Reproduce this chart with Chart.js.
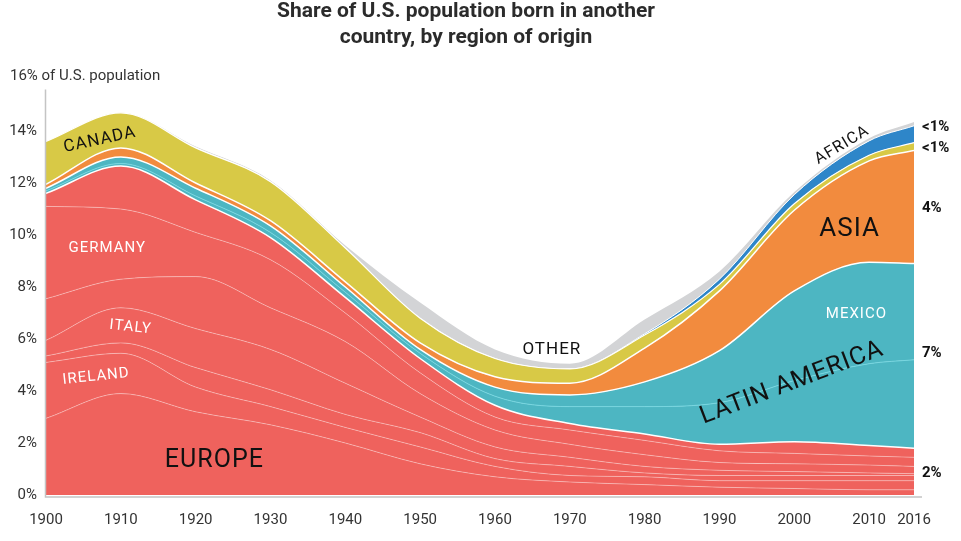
<!DOCTYPE html>
<html>
<head>
<meta charset="utf-8">
<script src="https://cdn.jsdelivr.net/npm/chart.js@4.4.1/dist/chart.umd.min.js"></script>
<style>
  html, body { margin: 0; padding: 0; background: #fff; }
  #wrap { width: 961px; height: 541px; position: relative; }
</style>
</head>
<body>
<div id="wrap"><canvas id="c" width="961" height="541"></canvas></div>
<script>
// Census years (x) and tick labels
const years = [1900, 1910, 1920, 1930, 1940, 1950, 1960, 1970, 1980, 1990, 2000, 2010, 2016];
const xTicks = [1900, 1910, 1920, 1930, 1940, 1950, 1960, 1970, 1980, 1990, 2000, 2010, 2016];
const yTicks = [0, 2, 4, 6, 8, 10, 12, 14, 16];

// % of U.S. population, stacked bottom to top
// Europe is drawn as several thin bands (faint lines inside the red area)
const europeA  = [2.95, 3.9, 3.2, 2.7, 2.0, 1.2, 0.7, 0.5, 0.4, 0.3, 0.25, 0.2, 0.2];
const ireland  = [2.15, 1.55, 0.95, 0.7, 0.6, 0.65, 0.4, 0.25, 0.3, 0.25, 0.3, 0.35, 0.35];
const europeB  = [0.25, 0.4, 0.75, 0.65, 0.5, 0.55, 0.3, 0.35, 0.15, 0.2, 0.2, 0.2, 0.2];
const italy    = [0.6, 1.35, 1.5, 1.55, 1.2, 0.6, 0.45, 0.35, 0.25, 0.2, 0.15, 0.1, 0.07];
const europeC  = [1.6, 1.1, 2.0, 1.6, 1.6, 0.9, 0.65, 0.5, 0.45, 0.3, 0.3, 0.3, 0.28];
const germany  = [3.55, 2.7, 1.7, 1.85, 1.1, 0.8, 0.5, 0.55, 0.55, 0.45, 0.4, 0.35, 0.35];
const europeD  = [0.5, 1.65, 1.25, 0.85, 0.6, 0.55, 0.45, 0.25, 0.25, 0.25, 0.45, 0.4, 0.35];
const latinOther = [0.1, 0.1, 0.15, 0.2, 0.2, 0.2, 0.35, 0.65, 1.05, 1.6, 2.35, 3.15, 3.4];
const mexico   = [0.1, 0.25, 0.3, 0.25, 0.2, 0.15, 0.35, 0.45, 0.95, 2.0, 3.45, 3.9, 3.7];
const asia     = [0.15, 0.35, 0.2, 0.2, 0.2, 0.25, 0.4, 0.45, 1.3, 2.3, 3.1, 3.9, 4.35];
const canada   = [1.65, 1.35, 1.35, 1.5, 1.3, 0.95, 0.7, 0.55, 0.5, 0.25, 0.25, 0.22, 0.3];
const africa   = [0, 0, 0, 0, 0, 0, 0, 0, 0.05, 0.2, 0.35, 0.55, 0.65];
const other    = [0, 0, 0.05, 0.05, 0.1, 0.6, 0.35, 0.2, 0.55, 0.3, 0.1, 0.1, 0.15];

const RED = '#EF625D', TEAL = '#4DB6C2', ORANGE = '#F28B3E', YELLOW = '#D8C946', BLUE = '#2E86C9', GRAY = '#D3D4D6';
const FAINT = 'rgba(255,255,255,0.35)';

function layer(label, vals, color, line, width, first) {
  return {
    label,
    data: years.map((yr, i) => ({ x: yr, y: vals[i] })),
    backgroundColor: color,
    borderColor: line,
    borderWidth: width,
    fill: first ? 'origin' : '-1',
    pointRadius: 0,
    cubicInterpolationMode: 'monotone'
  };
}

const datasets = [
  layer('Europe 1', europeA, RED, FAINT, 1, true),
  layer('Ireland', ireland, RED, FAINT, 1),
  layer('Europe 2', europeB, RED, FAINT, 1),
  layer('Italy', italy, RED, FAINT, 1),
  layer('Europe 3', europeC, RED, FAINT, 1),
  layer('Germany', germany, RED, FAINT, 1),
  layer('Europe 4', europeD, RED, '#fff', 1.5),
  layer('Latin America', latinOther, TEAL, 'rgba(120,215,225,0.9)', 1),
  layer('Mexico', mexico, TEAL, '#fff', 1.5),
  layer('Asia', asia, ORANGE, '#fff', 1.5),
  layer('Canada', canada, YELLOW, '#fff', 1.2),
  layer('Africa', africa, BLUE, '#fff', 1),
  layer('Other', other, GRAY, 'rgba(0,0,0,0)', 0)
];

const areaLabels = [
  { text: 'CANADA', x: 1907.2, y: 13.65, rot: -12, size: 17, color: '#111' },
  { text: 'GERMANY', x: 1908.2, y: 9.5, rot: 0, size: 15, color: '#fff' },
  { text: 'ITALY', x: 1911.3, y: 6.45, rot: 6, size: 15, color: '#fff' },
  { text: 'IRELAND', x: 1906.7, y: 4.55, rot: -6, size: 15, color: '#fff' },
  { text: 'EUROPE', x: 1922.5, y: 1.31, rot: 0, size: 25, color: '#111' },
  { text: 'OTHER', x: 1967.6, y: 5.6, rot: 0, size: 17, color: '#111' },
  { text: 'LATIN AMERICA', x: 1999.7, y: 4.3, rot: -21, size: 25, color: '#111' },
  { text: 'MEXICO', x: 2008.3, y: 6.96, rot: 0, size: 15, color: '#fff' },
  { text: 'ASIA', x: 2007.4, y: 10.23, rot: 0, size: 26, color: '#111' },
  { text: 'AFRICA', x: 2006.4, y: 13.45, rot: -31, size: 16, color: '#111' }
];
const endLabels = [
  { text: '<1%', y: 14.15 },
  { text: '<1%', y: 13.35 },
  { text: '4%', y: 11.04 },
  { text: '7%', y: 5.46 },
  { text: '2%', y: 0.85 }
];

const overlay = {
  id: 'overlay',
  afterDatasetsDraw(chart) {
    const { ctx } = chart;
    const xs = chart.scales.x, ys = chart.scales.y;
    ctx.save();
    // axis lines
    ctx.strokeStyle = '#c4c4c4';
    ctx.lineWidth = 1.5;
    ctx.beginPath();
    ctx.moveTo(xs.left - 0.5, ys.getPixelForValue(15.6));
    ctx.lineTo(xs.left - 0.5, ys.getPixelForValue(0) + 2);
    ctx.lineTo(xs.right + 8, ys.getPixelForValue(0) + 2);
    ctx.stroke();

    ctx.textAlign = 'center';
    ctx.textBaseline = 'middle';
    areaLabels.forEach(l => {
      ctx.save();
      ctx.translate(xs.getPixelForValue(l.x), ys.getPixelForValue(l.y));
      ctx.rotate(l.rot * Math.PI / 180);
      ctx.font = l.size + 'px Roboto';
      ctx.letterSpacing = '1px';
      ctx.fillStyle = l.color;
      ctx.fillText(l.text, 0, 0);
      ctx.restore();
    });

    ctx.letterSpacing = '0px';
    ctx.textAlign = 'left';
    ctx.font = 'bold 15px Roboto';
    ctx.fillStyle = '#111';
    endLabels.forEach(l => ctx.fillText(l.text, xs.right + 8, ys.getPixelForValue(l.y)));

    // y-axis caption at 16%
    ctx.font = '15px Roboto';
    ctx.fillStyle = '#333';
    ctx.fillText('16% of U.S. population', 10, ys.getPixelForValue(16) - 3);

    // title
    ctx.textAlign = 'center';
    ctx.font = 'bold 21px Roboto';
    ctx.fillStyle = '#2b2b2b';
    ctx.fillText('Share of U.S. population born in another', 466, 12);
    ctx.fillText('country, by region of origin', 466, 38);
    ctx.restore();
  }
};

new Chart(document.getElementById('c'), {
  type: 'line',
  data: { datasets },
  plugins: [overlay],
  options: {
    responsive: false,
    animation: false,
    devicePixelRatio: 1,
    layout: { padding: { left: 0, top: 79, right: 47, bottom: 0 } },
    plugins: { legend: { display: false }, tooltip: { enabled: false } },
    scales: {
      x: {
        type: 'linear', min: 1900, max: 2016,
        grid: { display: false, drawTicks: false },
        border: { display: false },
        afterBuildTicks: ax => { ax.ticks = xTicks.map(v => ({ value: v })); },
        afterFit: ax => { ax.height = 46; },
        ticks: { autoSkip: false, maxRotation: 0, padding: 16, color: '#333',
                 font: { family: 'Roboto', size: 15 }, callback: v => String(v) }
      },
      y: {
        stacked: true, min: 0, max: 16,
        grid: { display: false, drawTicks: false },
        border: { display: false },
        afterBuildTicks: ax => { ax.ticks = yTicks.map(v => ({ value: v })); },
        afterFit: ax => { ax.width = 46; },
        ticks: { padding: 9, color: '#333', font: { family: 'Roboto', size: 15 },
                 callback: v => v === 16 ? '' : v + '%' }
      }
    }
  }
});
</script>
</body>
</html>
